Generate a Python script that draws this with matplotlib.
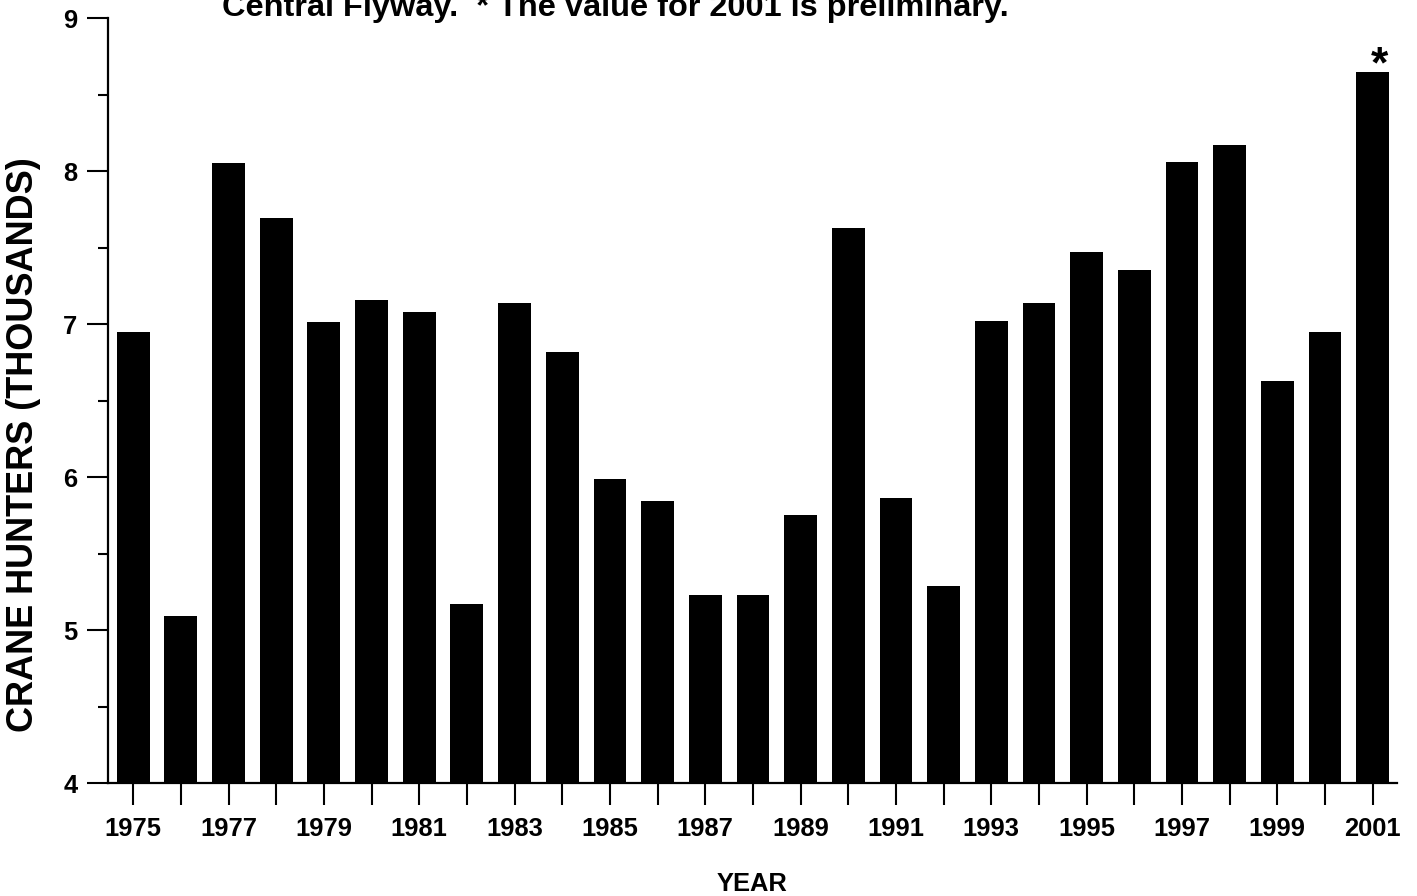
import matplotlib
matplotlib.use('Agg')
import matplotlib.pyplot as plt
from matplotlib.ticker import MultipleLocator

plt.rcParams['font.family'] = ['Liberation Sans', 'DejaVu Sans']
plt.rcParams['font.weight'] = 'bold'

# sandhill crane hunters, Central Flyway (thousands)
years = list(range(1975, 2002))
hunters = [6.95, 5.09, 8.05, 7.69, 7.01, 7.16, 7.08, 5.17, 7.14, 6.82,
           5.99, 5.84, 5.23, 5.23, 5.75, 7.63, 5.86, 5.29, 7.02, 7.14,
           7.47, 7.35, 8.06, 8.17, 6.63, 6.95, 8.65]
label_years = [y for y in years if y % 2 == 1]

fig = plt.figure(figsize=(14.17, 8.96), dpi=100)
ax = fig.add_axes([0.0762, 0.1261, 0.9097, 0.8538])

ax.bar(years, [h - 4 for h in hunters], bottom=4, width=0.69, color='black')

ax.set_xlim(1974.47, 2001.51)
ax.set_ylim(4, 9)

ax.set_xticks(years)
ax.set_xticklabels([str(y) if y in label_years else '' for y in years])
ax.yaxis.set_major_locator(MultipleLocator(1))
ax.yaxis.set_minor_locator(MultipleLocator(0.5))

for s in ['top', 'right']:
    ax.spines[s].set_visible(False)
for s in ['left', 'bottom']:
    ax.spines[s].set_linewidth(1.6)

ax.tick_params(axis='y', which='major', direction='out', length=15, width=1.5,
               labelsize=18.4, pad=7)
ax.tick_params(axis='y', which='minor', direction='out', length=7.5, width=1.5)
ax.tick_params(axis='x', which='major', direction='out', length=16, width=1.5,
               labelsize=18.4, pad=8.5)
for lab in ax.get_xticklabels() + ax.get_yticklabels():
    lab.set_fontweight('bold')

ax.set_xlabel('YEAR', fontsize=18.4, fontweight='bold')
ax.xaxis.set_label_coords(0.5, -(884 - 783) / 765, transform=ax.transAxes)
ax.xaxis.label.set_va('center')
ax.set_ylabel('CRANE HUNTERS (THOUSANDS)', fontsize=26, fontweight='bold')
ax.yaxis.set_label_coords(-(108 - 24) / 1289, (783 - 445) / 765, transform=ax.transAxes)
ax.yaxis.label.set_va('center')

# note text at top, partly cut off in the original
fig.text(222 / 1417, 1 - 16 / 896, 'Central Flyway.  * The value for 2001 is preliminary.',
         fontsize=23.4, fontweight='bold', ha='left', va='baseline')

ax.annotate('*', xy=(years[-1], hunters[-1]), xytext=(5, -4), textcoords='offset points',
            ha='center', va='baseline', fontsize=32, fontweight='bold', annotation_clip=False)

fig.savefig('out.png', dpi=100)
